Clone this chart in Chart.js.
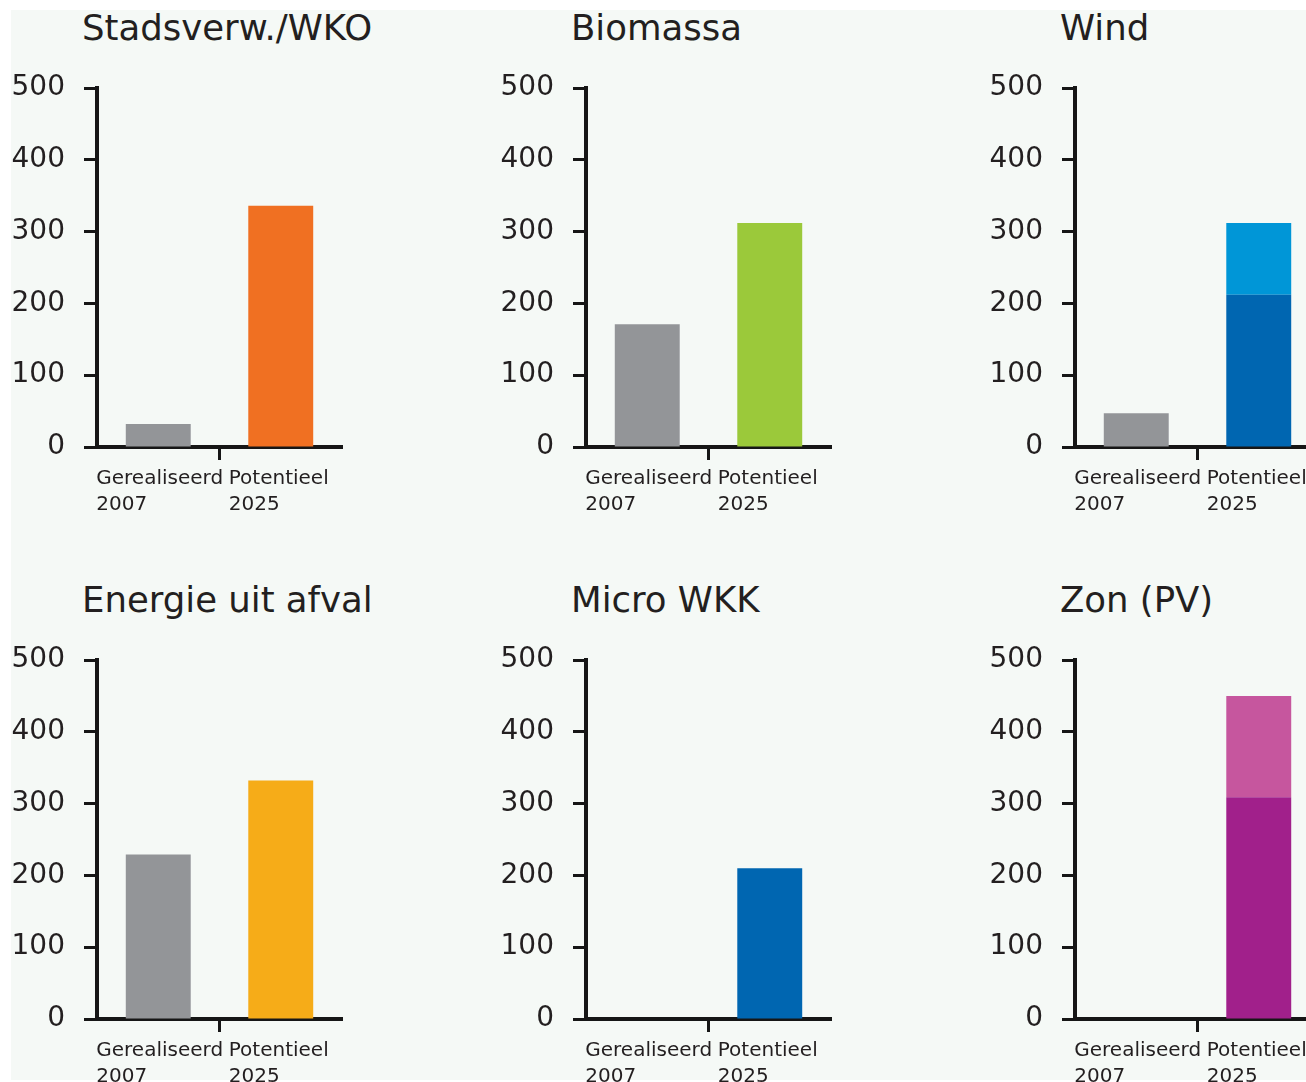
<!DOCTYPE html>
<html>
<head>
<meta charset="utf-8">
<title>Hernieuwbare energie</title>
<script src="https://cdn.jsdelivr.net/npm/chart.js@4.4.1/dist/chart.umd.min.js"></script>
<style>
	html, body{
		margin:0;
		padding:0;
		width:1306px;
		height:1082px;
		overflow:hidden;
		background-color:#ffffff;
		font-family:"DejaVu Sans", Verdana, sans-serif;
	}
	#back{
		position:absolute;
		left:11px;
		top:10px;
		width:1295px;
		height:1070px;
		background-color:#f5f9f6;
	}
	.panel{
		position:absolute;
		width:489px;
		height:537px;
	}
	.title{
		position:absolute;
		font-size:35.5px;
		line-height:40px;
		color:#231f20;
		white-space:nowrap;
	}
</style>
</head>
<body>
	<div id="back"></div>
	<div id="charts"></div>
<script>
	// data per panel (TJ)
	titles=["Stadsverw./WKO","Biomassa","Wind","Energie uit afval","Micro WKK","Zon (PV)"];
	categories=[["Gerealiseerd","2007"],["Potentieel","2025"]];
	gerealiseerd2007=[32,171,47,229,0,0];
	potentieel2025=[336,312,212,332,210,309];
	potentieelExtra=[0,0,100,0,0,141];
	yTicks=[0,100,200,300,400,500];

	grey="#939598";
	mainColors=["#f07022","#9bc93a","#0066b1","#f6ac18","#0066b1","#a1208b"];
	extraColors=[null,null,"#0096d7",null,null,"#c6569e"];
	textColor="#231f20";

	Chart.defaults.font.family='"DejaVu Sans", Verdana, sans-serif';
	Chart.defaults.color=textColor;

	// category labels are left aligned, near the left edge of each category
	labelShift=[-62,-52];
	const categoryLabels={
		id:"categoryLabels",
		afterDraw:function(chart){
			var xs=chart.scales.x;
			var c=chart.ctx;
			c.save();
			c.font='20px "DejaVu Sans", Verdana, sans-serif';
			c.fillStyle=textColor;
			c.textAlign="left";
			c.textBaseline="middle";
			for (var j=0;j<categories.length;j++){
				var x=xs.getPixelForValue(j)+labelShift[j];
				for (var l=0;l<categories[j].length;l++){
					c.fillText(categories[j][l],x,chart.chartArea.bottom+32+l*26);
				}
			}
			c.restore();
		}
	};

	function MakePanel(i){
		var col=i%3;
		var row=Math.floor(i/3);
		var px=col*489;
		var py=row*572;
		var container=document.getElementById("charts");

		var t=document.createElement("div");
		t.className="title";
		t.style.left=(px+82)+"px";
		t.style.top=(py+8)+"px";
		t.textContent=titles[i];
		container.appendChild(t);

		var p=document.createElement("div");
		p.className="panel";
		p.style.left=px+"px";
		p.style.top=py+"px";
		var cv=document.createElement("canvas");
		cv.width=489;
		cv.height=537;
		p.appendChild(cv);
		container.appendChild(p);

		var datasets=[{
			label:"basis",
			data:[gerealiseerd2007[i],potentieel2025[i]],
			backgroundColor:[grey,mainColors[i]],
			barPercentage:0.53,
			categoryPercentage:1
		}];
		if (potentieelExtra[i]>0){
			datasets.push({
				label:"extra",
				data:[0,potentieelExtra[i]],
				backgroundColor:[grey,extraColors[i]],
				barPercentage:0.53,
				categoryPercentage:1
			});
		}

		new Chart(cv,{
			type:"bar",
			data:{labels:categories,datasets:datasets},
			plugins:[categoryLabels],
			options:{
				responsive:false,
				animation:false,
				devicePixelRatio:1,
				layout:{padding:{top:88,right:147,left:0,bottom:0}},
				plugins:{legend:{display:false},tooltip:{enabled:false}},
				scales:{
					x:{
						stacked:true,
						offset:true,
						border:{display:true,width:4,color:"#161616"},
						grid:{
							offset:true,
							drawOnChartArea:false,
							drawTicks:true,
							tickLength:13,
							tickWidth:3,
							tickColor:function(ctx){return ctx.index===1 ? "#161616" : "rgba(0,0,0,0)";}
						},
						ticks:{display:false},
						afterFit:function(scale){scale.height=90;}
					},
					y:{
						stacked:true,
						min:0,
						max:500,
						afterBuildTicks:function(scale){scale.ticks=yTicks.map(function(v){return {value:v};});},
						border:{display:true,width:4,color:"#161616"},
						grid:{
							drawOnChartArea:false,
							drawTicks:true,
							tickLength:13,
							tickWidth:3,
							tickColor:"#161616"
						},
						ticks:{
							padding:19,
							font:{size:28},
							color:textColor
						},
						afterFit:function(scale){scale.width=97;}
					}
				}
			}
		});
	}

	for (var k=0;k<titles.length;k++){
		MakePanel(k);
	}
</script>
</body>
</html>
